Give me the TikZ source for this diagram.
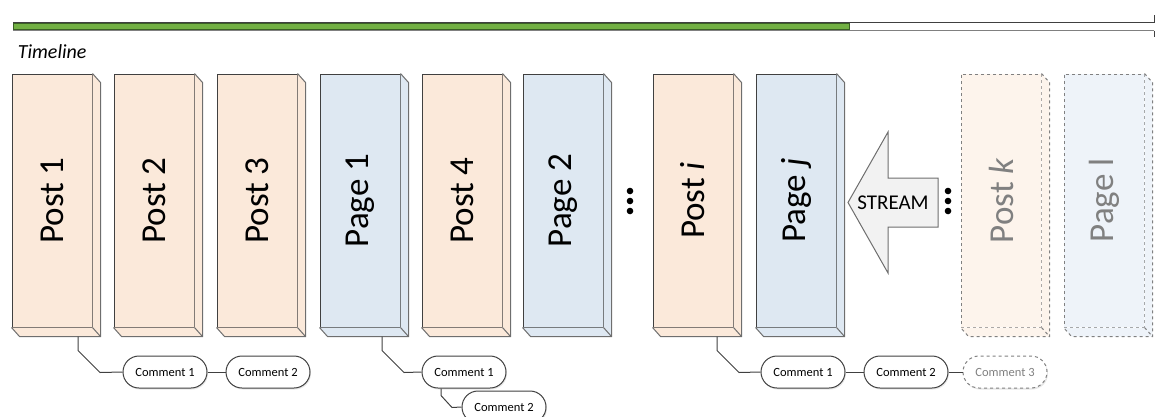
\documentclass[tikz,border=0pt]{standalone}
\usepackage{fontspec}
\setmainfont{Carlito}
\usetikzlibrary{shapes.misc,shadows}

\definecolor{postc}{HTML}{FBE9DA}
\definecolor{pagec}{HTML}{DEE8F2}
\definecolor{postfade}{HTML}{FDF4EC}
\definecolor{pagefade}{HTML}{EEF3F9}
\definecolor{edgec}{HTML}{404040}
\definecolor{sidec}{HTML}{6E6E6E}
\definecolor{fadec}{HTML}{808080}
\definecolor{streamc}{HTML}{F2F2F2}
\definecolor{barg}{HTML}{72B043}
\definecolor{bargd}{HTML}{3A5F24}

% extruded faces of a block: node, fill, extra style
\newcommand{\blockdepth}[3]{%
  \fill[#2] (#1.north east) -- ++(8,9) -- ([shift={(8,9)}]#1.south east) -- ([shift={(8,9)}]#1.south west) -- (#1.south west) -- (#1.south east) -- cycle;
  \draw[sidec,#3] (#1.north east) -- ++(8,9) |- ([shift={(8,9)}]#1.south west) -- (#1.south west);
  \draw[sidec,#3] (#1.south east) -- ++(8,9);}

\begin{document}
\begin{tikzpicture}[x=1pt, y=-1pt, line width=1pt,
  block/.style={draw=edgec, minimum width=80pt, minimum height=253pt, inner sep=0pt, font=\fontsize{35}{40}\selectfont},
  post/.style={block, fill=postc},
  page/.style={block, fill=pagec},
  ghost/.style={dashed, draw=fadec, text=fadec},
  comment/.style={rounded rectangle, draw=edgec, fill=white, minimum width=84pt, minimum height=32pt, inner sep=0pt, font=\fontsize{12.5}{14}\selectfont, drop shadow={shadow xshift=1pt, shadow yshift=-1.5pt, opacity=0.2}},
  link/.style={draw=edgec}]
\useasboundingbox (0,0) rectangle (1155,416);

% Timeline bar
\draw[edgec] (13,22.5) -- (1154,22.5);
\draw[fadec] (13,30.5) -- (1154,30.5);
\filldraw[fill=barg, draw=bargd] (13,23.5) rectangle (849,29.5);
\draw[edgec] (1154,15) -- (1154,22.5);
\draw[edgec] (1154,30.5) -- (1154,37);
\node[anchor=base west, font=\fontsize{20}{24}\selectfont\itshape] (timeline) at (14,58) {Timeline};

% Posts and pages
\node[post] (post1) at (52,200.5) {\rotatebox{90}{Post 1}};
\node[post] (post2) at (154,200.5) {\rotatebox{90}{Post 2}};
\node[post] (post3) at (257,200.5) {\rotatebox{90}{Post 3}};
\node[page] (page1) at (360,200.5) {\rotatebox{90}{Page 1}};
\node[post] (post4) at (462,200.5) {\rotatebox{90}{Post 4}};
\node[page] (page2) at (563,200.5) {\rotatebox{90}{Page 2}};
\node[post] (posti) at (693,200.5) {\rotatebox{90}{Post \textit{i}}};
\node[page] (pagej) at (796,200.5) {\rotatebox{90}{Page \textit{j}}};
\node[post, ghost, fill=postfade] (postk) at (1001,200.5) {\rotatebox{90}{Post \textit{k}}};
\node[page, ghost, fill=pagefade] (pagel) at (1104,200.5) {\rotatebox{90}{Page l}};

\foreach \b in {post1,post2,post3,post4,posti} {\blockdepth{\b}{postc}{}}
\foreach \b in {page1,page2,pagej} {\blockdepth{\b}{pagec}{}}
\blockdepth{postk}{postfade}{dashed,fadec}
\blockdepth{pagel}{pagefade}{dashed,fadec}

% Ellipsis dots
\foreach \x in {630,948}
  \foreach \y in {191,201,211}
    \fill (\x,\y) circle (3.3pt);

% Stream arrow
\filldraw[fill=streamc, draw=sidec] (848,202.5) -- (888,132) -- (888,178) -- (938,178) -- (938,227) -- (888,227) -- (888,273) -- cycle;
\node[font=\fontsize{21}{24}\selectfont] (stream) at (893,202.5) {STREAM};

% Comments
\node[comment] (c11) at (165,372) {Comment 1};
\node[comment] (c12) at (268,372) {Comment 2};
\node[comment] (c21) at (464,372) {Comment 1};
\node[comment] (c22) at (504,407) {Comment 2};
\node[comment] (c31) at (803,372) {Comment 1};
\node[comment] (c32) at (906,372) {Comment 2};
\node[comment, ghost] (c33) at (1005,372) {Comment 3};

\draw[link] (post1.south) ++(26,9) -- ++(0,14) -- ++(22,22) -- (c11.west);
\draw[link] (c11.east) -- (c12.west);
\draw[link] (page1.south) ++(22,9) -- ++(0,14) -- ++(22,22) -- (c21.west);
\draw[link] (c21.south) ++(-23,0) -- ++(0,7) -- ++(11,12) -- (c22.west);
\draw[link] (posti.south) ++(24,9) -- ++(0,14) -- ++(22,22) -- (c31.west);
\draw[link] (c31.east) -- (c32.west);
\draw[link] (c32.east) -- (c33.west);
\end{tikzpicture}
\end{document}
